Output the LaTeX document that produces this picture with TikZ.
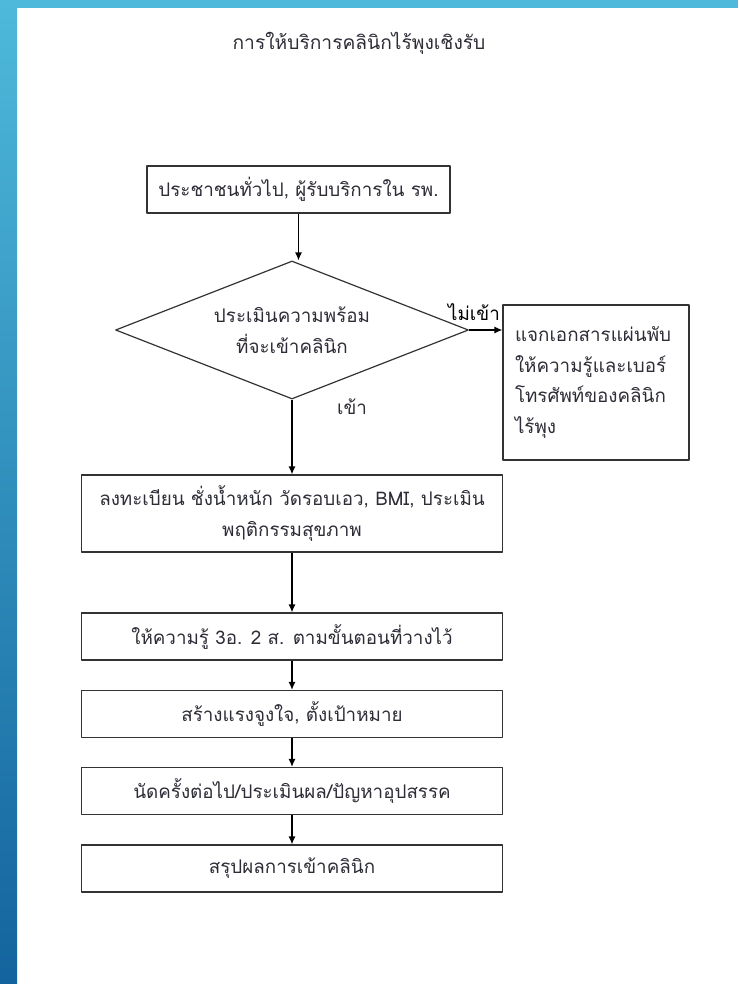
\documentclass[tikz,border=0pt]{standalone}
\usepackage{fontspec}
\setmainfont{Liberation Sans}
\newfontfamily\thaifont[Script=Thai]{Loma}
\usetikzlibrary{shapes.geometric,arrows.meta}
\definecolor{barlight}{RGB}{78,185,218}
\definecolor{bardark}{RGB}{19,100,158}
\definecolor{ink}{RGB}{45,45,55}

\begin{document}
\begin{tikzpicture}[x=1pt, y=-1pt, font=\thaifont\fontsize{18.8}{30.5}\selectfont, text=ink,
	line join=round, >={Latex[length=8pt,width=7pt]},
	stepbox/.style={draw=black!80, line width=1.2pt, minimum height=47pt, inner sep=0pt, align=center},
	choice/.style={diamond, draw=black!80, line width=1.2pt, aspect=2.56, inner sep=0pt,
		minimum width=353pt, minimum height=138pt, align=center},
	flow/.style={->, line width=1.2pt, black}]
	% frame of the slide
	\fill[white] (0,0) rectangle (738,984);
	\shade[top color=barlight, bottom color=bardark] (0,0) rectangle (17,984);
	\fill[barlight] (0,0) rectangle (738,8);
	\useasboundingbox (0,0) rectangle (738,984);

	\node[font=\thaifont\fontsize{19.2}{24}\selectfont] (title) at (359,43) {การให้บริการคลินิกไร้พุงเชิงรับ};

	\node[stepbox, minimum width=303pt] (visit) at (298.5,189.5) {ประชาชนทั่วไป, ผู้รับบริการใน รพ.};
	\node[choice] (ready) at (292,330) {ประเมินความพร้อม\\ที่จะเข้าคลินิก};
	\node[stepbox, minimum width=186pt, minimum height=155pt, text width=162pt, inner xsep=12pt, align=left]
		(leaflet) at (596,382.5) {แจกเอกสารแผ่นพับ\\ให้ความรู้และเบอร์\\โทรศัพท์ของคลินิก\\ไร้พุง\vphantom{ก}\\[-6pt]};
	\node[stepbox, minimum width=421pt, minimum height=77pt] (register) at (292,513.5)
		{ลงทะเบียน ชั่งน้ำหนัก วัดรอบเอว, BMI, ประเมิน\\พฤติกรรมสุขภาพ};
	\node[stepbox, minimum width=421pt] (teach) at (292,636.5) {ให้ความรู้ 3อ. 2 ส. ตามขั้นตอนที่วางไว้};
	\node[stepbox, minimum width=421pt] (goal) at (292,714) {สร้างแรงจูงใจ, ตั้งเป้าหมาย};
	\node[stepbox, minimum width=421pt] (follow) at (292,791) {นัดครั้งต่อไป/ประเมินผล/ปัญหาอุปสรรค};
	\node[stepbox, minimum width=421pt] (summary) at (292,868.5) {สรุปผลการเข้าคลินิก};

	\draw[flow] (visit) -- (visit.south |- ready.north);
	\draw[flow] (ready.east) -- (ready.east -| leaflet.west) node[pos=1, above left, inner xsep=2pt, inner ysep=9pt] {ไม่เข้า};
	\draw[flow] (ready.south) -- (register.north);
	\node (join) at (352,407) {เข้า};
	\draw[flow] (register) -- (teach);
	\draw[flow] (teach) -- (goal);
	\draw[flow] (goal) -- (follow);
	\draw[flow] (follow) -- (summary);
\end{tikzpicture}
\end{document}
